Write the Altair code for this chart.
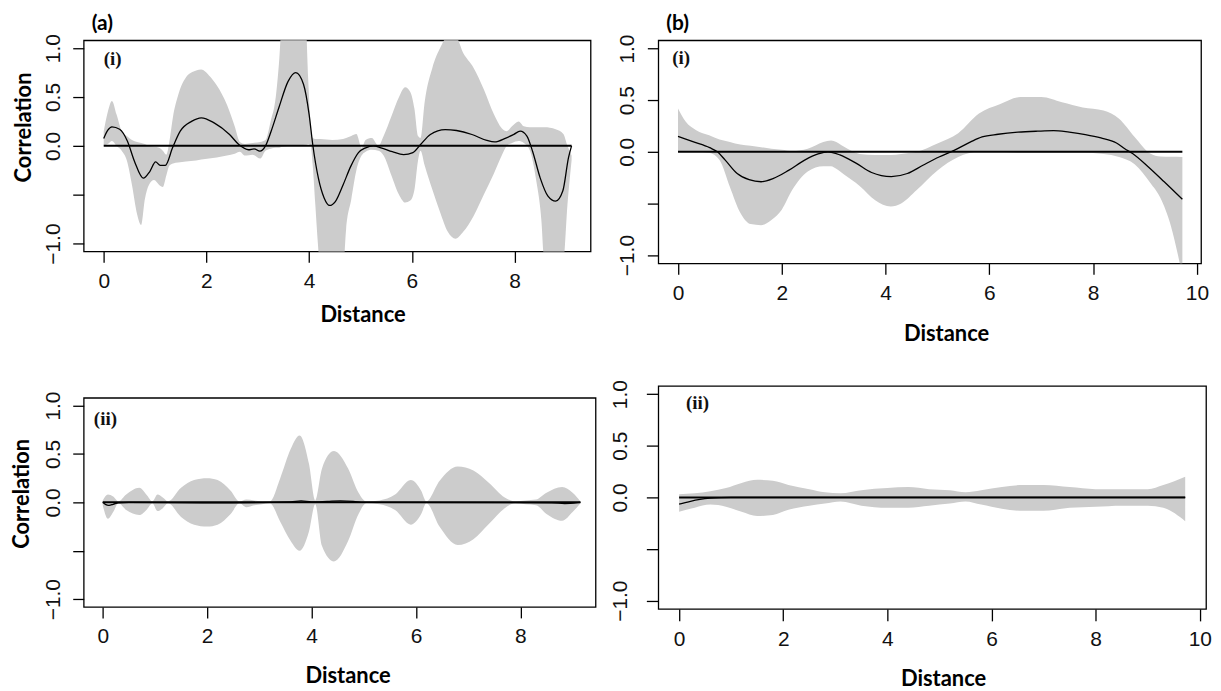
import altair as alt
import pandas as pd

# ---------------- panel (a)(i) ----------------
a1_line_x = [0, 0.08, 0.16, 0.31, 0.46, 0.6, 0.77, 0.9, 1.01, 1.1, 1.2, 1.34, 1.49, 1.71, 1.9,
             2.15, 2.45, 2.63, 2.82, 2.93, 3.04, 3.15, 3.26, 3.41, 3.59, 3.74, 3.89, 4.0, 4.07, 4.18,
             4.29, 4.4, 4.51, 4.66, 4.81, 4.96, 5.1, 5.25, 5.4, 5.62, 5.84, 6.02, 6.17, 6.36, 6.65,
             6.87, 7.17, 7.46, 7.61, 7.83, 7.98, 8.11, 8.24, 8.35, 8.5, 8.65, 8.8, 8.94, 9.05, 9.11]
a1_line_y = [0.075, 0.16, 0.195, 0.17, 0.05, -0.16, -0.33, -0.26, -0.165, -0.2, -0.2, -0.02, 0.15, 0.25, 0.287,
             0.235, 0.116, 0.014, -0.04, -0.03, -0.055, 0.0, 0.15, 0.39, 0.66, 0.75, 0.63, 0.32, 0.014, -0.33,
             -0.53, -0.61, -0.57, -0.4, -0.21, -0.07, -0.02, 0.0, -0.02, -0.06, -0.09, -0.07, 0.014, 0.116, 0.167,
             0.157, 0.116, 0.055, 0.04, 0.08, 0.116, 0.15, 0.1, -0.055, -0.33, -0.515, -0.566, -0.46, -0.12, 0.0]
a1_band_x = [0.0, 0.08, 0.16, 0.25, 0.35, 0.45, 0.55, 0.65, 0.73, 0.8, 0.88, 0.98, 1.08, 1.15, 1.22,
             1.28, 1.35, 1.45, 1.6, 1.8, 1.9, 2.05, 2.2, 2.4, 2.55, 2.65, 2.75, 2.9, 3.05, 3.15,
             3.25, 3.35, 3.42, 3.47, 3.7, 3.93, 3.98, 4.03, 4.07, 4.12, 4.17, 4.22, 4.45, 4.66, 4.72,
             4.82, 4.92, 5.02, 5.1, 5.22, 5.35, 5.45, 5.6, 5.75, 5.87, 5.97, 6.05, 6.12, 6.17, 6.25,
             6.4, 6.55, 6.7, 6.85, 7.0, 7.2, 7.4, 7.6, 7.75, 7.85, 7.95, 8.08, 8.18, 8.3, 8.42,
             8.52, 8.58, 8.8, 8.95, 9.03, 9.11]
a1_band_lo = [0.0, 0.02, 0.05, 0.0, -0.05, -0.15, -0.4, -0.7, -0.81, -0.55, -0.4, -0.35, -0.4, -0.42, -0.3,
              -0.2, -0.18, -0.17, -0.16, -0.15, -0.14, -0.13, -0.12, -0.1, -0.08, -0.06, -0.1, -0.09, -0.13, -0.05,
              -0.03, -0.02, -0.02, -0.01, 0.0, 0.01, 0.02, 0.0, -0.2, -0.6, -1.0, -1.3, -1.5, -1.3, -0.85,
              -0.55, -0.25, -0.1, -0.06, -0.04, -0.05, -0.1, -0.3, -0.5, -0.58, -0.56, -0.45, -0.15, -0.05, -0.2,
              -0.45, -0.68, -0.88, -0.95, -0.88, -0.72, -0.5, -0.28, -0.1, 0.0, 0.03, 0.05, 0.03, -0.05, -0.35,
              -0.75, -1.2, -1.4, -1.2, -0.6, -0.15]
a1_band_hi = [0.15, 0.35, 0.46, 0.32, 0.15, 0.1, 0.06, 0.04, 0.03, 0.02, 0.0, -0.01, -0.02, -0.05, -0.09,
              0.05, 0.3, 0.52, 0.7, 0.77, 0.78, 0.72, 0.62, 0.42, 0.2, 0.04, 0.02, 0.03, 0.04, 0.06,
              0.25, 0.5, 0.9, 1.3, 1.5, 1.3, 0.7, 0.2, 0.08, 0.07, 0.07, 0.07, 0.06, 0.07, 0.08,
              0.1, 0.12, -0.02, 0.06, 0.08, 0.0, 0.1, 0.3, 0.5, 0.6, 0.55, 0.38, 0.1, 0.08, 0.45,
              0.8, 1.0, 1.12, 1.12, 0.95, 0.8, 0.58, 0.32, 0.18, 0.15, 0.2, 0.25, 0.2, 0.19, 0.19,
              0.19, 0.19, 0.17, 0.12, 0.0, -0.1]

# ---------------- panel (b)(i) ----------------
b1_line_x = [0, 0.3, 0.61, 0.76, 0.91, 1.14, 1.37, 1.6, 1.83, 2.13, 2.44, 2.7, 2.89, 3.12, 3.43,
             3.73, 4.11, 4.42, 4.72, 5.03, 5.33, 5.64, 5.86, 6.17, 6.55, 6.93, 7.24, 7.54, 7.85, 8.15,
             8.45, 8.61, 8.76, 9.06, 9.37, 9.72]
b1_line_y = [0.15, 0.096, 0.04, 0.0, -0.08, -0.21, -0.27, -0.29, -0.26, -0.18, -0.08, -0.02, 0.0, -0.03, -0.11,
             -0.2, -0.24, -0.21, -0.13, -0.05, 0.016, 0.096, 0.144, 0.17, 0.19, 0.2, 0.205, 0.19, 0.167, 0.135,
             0.086, 0.03, -0.016, -0.144, -0.29, -0.46]
b1_band_x = [0.0, 0.15, 0.35, 0.6, 0.8, 1.0, 1.2, 1.4, 1.6, 1.8, 2.0, 2.2, 2.5, 2.8, 2.95,
             3.0, 3.2, 3.5, 3.8, 4.1, 4.3, 4.6, 5.0, 5.4, 5.8, 6.2, 6.6, 7.0, 7.4, 7.8,
             8.2, 8.5, 8.8, 9.1, 9.3, 9.5, 9.72]
b1_band_lo = [0.0, 0.0, 0.0, -0.01, -0.08, -0.34, -0.59, -0.7, -0.71, -0.66, -0.56, -0.37, -0.19, -0.14, -0.14,
              -0.15, -0.22, -0.33, -0.47, -0.53, -0.5, -0.37, -0.18, -0.05, 0.0, 0.0, -0.01, -0.01, -0.01, -0.01,
              -0.02, -0.05, -0.12, -0.3, -0.45, -0.72, -1.2]
b1_band_hi = [0.42, 0.29, 0.21, 0.16, 0.12, 0.096, 0.07, 0.058, 0.045, 0.03, 0.02, 0.01, 0.03, 0.096, 0.11,
              0.105, 0.048, -0.02, -0.03, -0.03, -0.02, 0.0, 0.08, 0.18, 0.37, 0.46, 0.53, 0.53, 0.48, 0.43,
              0.4, 0.32, 0.144, -0.016, -0.045, -0.048, -0.05]

# ---------------- panel (a)(ii) ----------------
a2_line_x = [0, 0.05, 0.12, 0.2, 0.3, 0.5, 2.0, 3.6, 3.8, 4.0, 4.3, 4.55, 4.8, 5.0, 8.6, 8.85, 9.1, 9.15]
a2_line_y = [0.0, -0.02, -0.03, -0.02, -0.005, 0.0, -0.005, 0.005, 0.015, 0.005, 0.01, 0.015, 0.01, 0.0,
             -0.005, -0.012, -0.003, 0.0]
a2_band_x = [0.0, 0.1, 0.2, 0.3, 0.45, 0.7, 0.85, 0.95, 1.05, 1.15, 1.25, 1.5, 1.75, 2.0, 2.2,
             2.45, 2.62, 2.75, 2.9, 3.05, 3.2, 3.4, 3.6, 3.77, 3.95, 4.07, 4.2, 4.43, 4.7, 4.9,
             5.05, 5.3, 5.6, 5.9, 6.1, 6.2, 6.45, 6.8, 7.1, 7.4, 7.7, 7.9, 8.1, 8.3, 8.5,
             8.8, 9.0, 9.15]
a2_band_lo = [-0.03, -0.17, -0.1, -0.01, -0.08, -0.13, -0.07, -0.01, -0.09, -0.06, -0.01, -0.15, -0.23, -0.25, -0.23,
              -0.12, -0.01, -0.05, -0.03, -0.02, -0.01, -0.2, -0.4, -0.5, -0.3, -0.02, -0.45, -0.61, -0.4, -0.12,
              -0.01, -0.02, -0.08, -0.23, -0.12, -0.01, -0.25, -0.44, -0.38, -0.22, -0.06, -0.01, -0.02, -0.03, -0.12,
              -0.19, -0.1, -0.01]
a2_band_hi = [0.02, 0.08, 0.06, 0.01, 0.08, 0.15, 0.07, 0.01, 0.08, 0.05, 0.01, 0.15, 0.23, 0.25, 0.23,
              0.12, 0.01, 0.03, 0.02, 0.01, 0.01, 0.25, 0.55, 0.69, 0.4, 0.02, 0.35, 0.53, 0.35, 0.1,
              0.01, 0.02, 0.08, 0.23, 0.12, 0.01, 0.22, 0.37, 0.33, 0.2, 0.05, 0.01, 0.02, 0.03, 0.1,
              0.16, 0.1, 0.01]

# ---------------- panel (b)(ii) ----------------
b2_line_x = [0, 0.2, 0.4, 0.6, 0.8, 1.0, 9.72]
b2_line_y = [-0.065, -0.04, -0.02, -0.008, -0.002, 0.0, 0.0]
b2_band_x = [0.0, 0.3, 0.6, 0.9, 1.2, 1.5, 1.8, 2.1, 2.5, 2.8, 3.1, 3.5, 4.0, 4.4, 4.8,
             5.2, 5.5, 5.8, 6.2, 6.6, 7.0, 7.5, 8.0, 8.5, 9.0, 9.3, 9.72]
b2_band_lo = [-0.14, -0.1, -0.07, -0.09, -0.14, -0.18, -0.17, -0.12, -0.08, -0.06, -0.04, -0.08, -0.1, -0.1, -0.08,
              -0.06, -0.04, -0.07, -0.11, -0.13, -0.13, -0.1, -0.09, -0.08, -0.08, -0.1, -0.23]
b2_band_hi = [0.03, 0.04, 0.06, 0.09, 0.14, 0.17, 0.16, 0.12, 0.08, 0.05, 0.04, 0.07, 0.09, 0.1, 0.08,
              0.07, 0.05, 0.07, 0.1, 0.12, 0.12, 0.1, 0.08, 0.08, 0.08, 0.12, 0.2]

Y_TICKS = [-1.0, -0.5, 0.0, 0.5, 1.0]
A_X_TICKS = [0, 2, 4, 6, 8]
B_X_TICKS = [0, 2, 4, 6, 8, 10]
Y_DOMAIN = [-1.08, 1.08]
GRAY = "#cccccc"
LABEL_FONT = "Liberation Sans"
TITLE_FONT = "Lato"
TAG_FONT = "Liberation Serif, DejaVu Serif, serif"


def panel(bx, blo, bhi, lx, ly, zero_end, xdom, xticks, width, height,
          tag, tag_x, tag_y, ytitle, ytitle_x, ytitle_y, xtitle_x, xtitle_y,
          label_pad, tick_size, title=None):
    band_df = pd.DataFrame({"d": bx, "lo": blo, "hi": bhi})
    line_df = pd.DataFrame({"d": lx, "r": ly})
    zero_df = pd.DataFrame({"d": [0, zero_end], "r": [0.0, 0.0]})
    tag_df = pd.DataFrame({"d": [tag_x], "r": [tag_y], "t": [tag]})

    xs = alt.Scale(domain=xdom, nice=False, zero=False)
    ys = alt.Scale(domain=Y_DOMAIN, nice=False, zero=False)
    xaxis = alt.Axis(values=xticks, format="d", title="Distance", titleX=xtitle_x, titleY=xtitle_y,
                     titleAlign="center", titleBaseline="middle", labelFlush=False,
                     labelPadding=8, tickSize=tick_size)
    yargs = dict(values=Y_TICKS, labelAngle=270, labelAlign="center", labelBaseline="bottom",
                 labelExpr="datum.value == -0.5 ? '' : format(datum.value, '.1f')",
                 labelOverlap=False, labelFlush=False, labelPadding=label_pad, tickSize=tick_size)
    if ytitle:
        yargs.update(title=ytitle, titleX=ytitle_x, titleY=ytitle_y, titleAngle=270,
                     titleAlign="center", titleBaseline="middle")
    else:
        yargs.update(title="")
    yaxis = alt.Axis(**yargs)

    band = alt.Chart(band_df).mark_area(color=GRAY, clip=True, interpolate="monotone").encode(
        x=alt.X("d:Q", scale=xs, axis=xaxis),
        y=alt.Y("lo:Q", scale=ys, axis=yaxis),
        y2="hi:Q",
    )
    zero = alt.Chart(zero_df).mark_line(color="black", strokeWidth=2).encode(
        x=alt.X("d:Q", scale=xs), y=alt.Y("r:Q", scale=ys))
    line = alt.Chart(line_df).mark_line(color="black", strokeWidth=1.3, clip=True,
                                        interpolate="monotone").encode(
        x=alt.X("d:Q", scale=xs), y=alt.Y("r:Q", scale=ys))
    text = alt.Chart(tag_df).mark_text(font=TAG_FONT, fontWeight="bold", fontSize=19,
                                       align="left", baseline="alphabetic", color="#111111").encode(
        x=alt.X("d:Q", scale=xs), y=alt.Y("r:Q", scale=ys), text="t:N")
    props = dict(width=width, height=height)
    if title:
        props["title"] = alt.TitleParams(title, anchor="start", frame="group", font=TITLE_FONT,
                                         fontSize=21, fontWeight="bold", dx=8, offset=0,
                                         color="black")
    return alt.layer(band, zero, line, text).properties(**props)


a1 = panel(a1_band_x, a1_band_lo, a1_band_hi, a1_line_x, a1_line_y, 9.11, [-0.39, 9.48], A_X_TICKS,
           509, 212, "(i)", 0.0, 0.83, "Correlation", -60, 87, 280, 63, 9, 11, title="(a)")
a2 = panel(a2_band_x, a2_band_lo, a2_band_hi, a2_line_x, a2_line_y, 9.15, [-0.365, 9.44], A_X_TICKS,
           514, 210, "(ii)", -0.17, 0.80, "Correlation", -62, 96, 265, 69, 9, 11)
b1 = panel(b1_band_x, b1_band_lo, b1_band_hi, b1_line_x, b1_line_y, 9.72, [-0.38, 10.08], B_X_TICKS,
           545, 224, "(i)", -0.11, 0.85, None, 0, 0, 289, 70, 10, 11, title="(b)")
b2 = panel(b2_band_x, b2_band_lo, b2_band_hi, b2_line_x, b2_line_y, 9.72, [-0.40, 10.12], B_X_TICKS,
           550, 224, "(ii)", 0.13, 0.86, None, 0, 0, 286, 70, 16, 12)

left = alt.vconcat(a1, a2, spacing=64)
right = alt.vconcat(b1, b2, spacing=34)

chart = alt.hconcat(left, right, spacing=12).properties(
    padding={"left": 2, "top": 2, "right": 0, "bottom": 0}
).configure_view(
    stroke="black", strokeWidth=1.3
).configure_axis(
    domain=False, grid=False, tickColor="black", tickWidth=1.3,
    labelFont=LABEL_FONT, labelFontSize=21, labelColor="#111111",
    titleFont=TITLE_FONT, titleFontSize=22, titleFontWeight="bold", titleColor="black",
).configure_concat(spacing=0)

chart.save("out.html", embed_options={"renderer": "svg", "actions": False})
